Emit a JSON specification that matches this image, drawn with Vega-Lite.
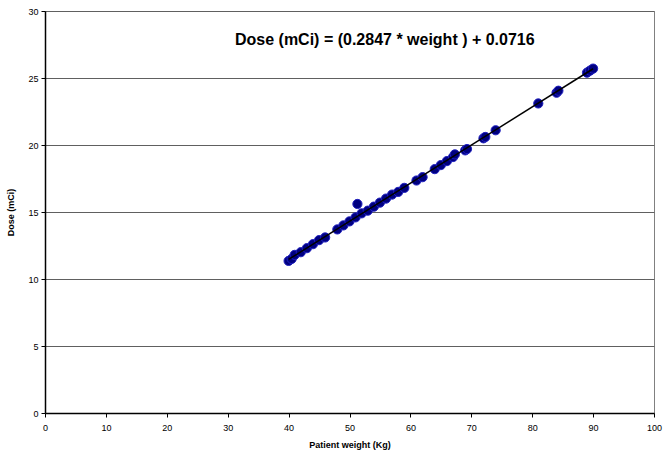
{
  "$schema": "https://vega.github.io/schema/vega-lite/v6.json",
  "width": 609,
  "height": 402,
  "autosize": "none",
  "padding": {"left": 45, "top": 11, "right": 18, "bottom": 39},
  "background": "white",
  "config": {
    "view": {"stroke": "#808080", "strokeWidth": 1},
    "font": "Liberation Sans",
    "axis": {
      "labelFont": "Liberation Sans",
      "titleFont": "Liberation Sans",
      "labelFontSize": 9,
      "labelColor": "#000000",
      "titleFontSize": 9,
      "titleFontWeight": "bold",
      "titleColor": "#000000",
      "domainColor": "#000000",
      "domainWidth": 1.5,
      "tickColor": "#000000",
      "tickSize": 4
    }
  },
  "datasets": {
    "pts": [
      {"weight": 40, "dose": 11.35},
      {"weight": 40.5, "dose": 11.5},
      {"weight": 41, "dose": 11.8},
      {"weight": 42, "dose": 12.0},
      {"weight": 43, "dose": 12.3},
      {"weight": 44, "dose": 12.6},
      {"weight": 45, "dose": 12.9},
      {"weight": 46, "dose": 13.1},
      {"weight": 48, "dose": 13.7},
      {"weight": 49, "dose": 14.0},
      {"weight": 50, "dose": 14.3},
      {"weight": 51, "dose": 14.6},
      {"weight": 51.3, "dose": 15.6},
      {"weight": 52, "dose": 14.9},
      {"weight": 53, "dose": 15.1},
      {"weight": 54, "dose": 15.4},
      {"weight": 55, "dose": 15.7},
      {"weight": 56, "dose": 16.0},
      {"weight": 57, "dose": 16.3},
      {"weight": 58, "dose": 16.5},
      {"weight": 59, "dose": 16.8},
      {"weight": 61, "dose": 17.35},
      {"weight": 62, "dose": 17.6},
      {"weight": 64, "dose": 18.2},
      {"weight": 65, "dose": 18.5},
      {"weight": 66, "dose": 18.8},
      {"weight": 67, "dose": 19.1},
      {"weight": 67.3, "dose": 19.3},
      {"weight": 69, "dose": 19.6},
      {"weight": 69.3, "dose": 19.7},
      {"weight": 72, "dose": 20.5},
      {"weight": 72.3, "dose": 20.6},
      {"weight": 74, "dose": 21.1},
      {"weight": 81, "dose": 23.1},
      {"weight": 84, "dose": 23.9},
      {"weight": 84.3, "dose": 24.05},
      {"weight": 89, "dose": 25.4},
      {"weight": 89.5, "dose": 25.55},
      {"weight": 90, "dose": 25.7}
    ],
    "fit": [
      {"weight": 40, "dose": 11.46},
      {"weight": 90, "dose": 25.69}
    ]
  },
  "layer": [
    {
      "data": {"name": "pts"},
      "mark": {"type": "point", "filled": true, "fill": "#000080", "stroke": "#2020c0", "strokeWidth": 1, "size": 85, "opacity": 1},
      "encoding": {
        "x": {
          "field": "weight", "type": "quantitative",
          "scale": {"domain": [0, 100], "nice": false},
          "axis": {"values": [0,10,20,30,40,50,60,70,80,90,100], "grid": false, "labelFlush": false, "title": "Patient weight (Kg)", "titlePadding": 8, "labelPadding": 6}
        },
        "y": {
          "field": "dose", "type": "quantitative",
          "scale": {"domain": [0, 30], "nice": false},
          "axis": {"values": [0,5,10,15,20,25,30], "grid": true, "gridColor": "#606060", "gridWidth": 1, "labelFlush": false, "title": "Dose (mCi)", "titlePadding": 12, "labelPadding": 3}
        }
      }
    },
    {
      "data": {"name": "fit"},
      "mark": {"type": "line", "color": "#000000", "strokeWidth": 1.5},
      "encoding": {
        "x": {"field": "weight", "type": "quantitative"},
        "y": {"field": "dose", "type": "quantitative"}
      }
    },
    {
      "data": {"values": [{"label": "Dose (mCi) = (0.2847 * weight ) + 0.0716"}]},
      "mark": {"type": "text", "font": "Liberation Sans", "fontSize": 16, "fontWeight": "bold", "color": "#000000", "align": "center", "baseline": "middle"},
      "encoding": {
        "text": {"field": "label"},
        "x": {"datum": 55.8},
        "y": {"datum": 27.8}
      }
    }
  ]
}
